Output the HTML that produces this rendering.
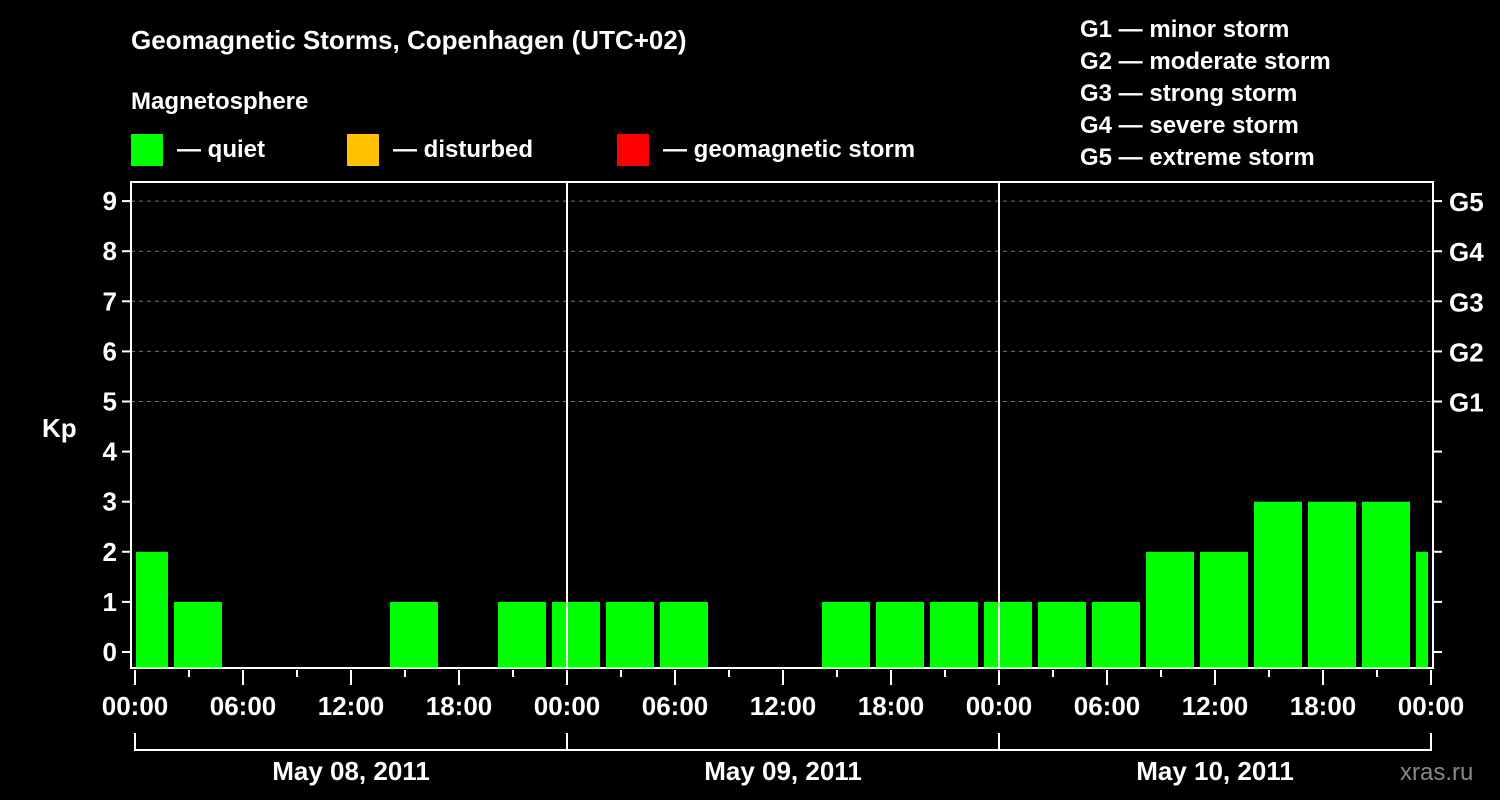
<!DOCTYPE html>
<html><head><meta charset="utf-8"><style>
body{margin:0;background:#000;}
svg{display:block;font-family:"Liberation Sans",Arial,sans-serif;font-weight:bold;}
</style></head><body>
<svg id="chart" width="1500" height="800" viewBox="0 0 1500 800">
<rect width="1500" height="800" fill="#000"/>
<text x="131" y="49" fill="#fff" font-size="26">Geomagnetic Storms, Copenhagen (UTC+02)</text>
<text x="131" y="109" fill="#fff" font-size="24">Magnetosphere</text>
<g><rect x="131" y="134" width="32" height="32" fill="#00ff00"/><text x="177" y="157" fill="#fff" font-size="24">— quiet</text></g>
<g><rect x="347" y="134" width="32" height="32" fill="#ffc000"/><text x="393" y="157" fill="#fff" font-size="24">— disturbed</text></g>
<g><rect x="617" y="134" width="32" height="32" fill="#ff0000"/><text x="663" y="157" fill="#fff" font-size="24">— geomagnetic storm</text></g>
<g fill="#fff" font-size="24">
<text x="1080" y="37">G1 — minor storm</text><text x="1080" y="69">G2 — moderate storm</text><text x="1080" y="101">G3 — strong storm</text><text x="1080" y="133">G4 — severe storm</text><text x="1080" y="165">G5 — extreme storm</text></g>
<text x="42" y="437" fill="#fff" font-size="26">Kp</text>
<text x="1400" y="780" fill="#888" font-size="24" font-weight="normal">xras.ru</text>
<g id="plot"></g>
</svg>
<script>
const kpValues=[2,1,0,0,0,1,0,1,1,1,1,0,0,1,1,1,1,1,1,2,2,3,3,3,2];
const barStartHours=[-1,2,5,8,11,14,17,20,23,26,29,32,35,38,41,44,47,50,53,56,59,62,65,68,71];
const dayLabels=["May 08, 2011","May 09, 2011","May 10, 2011"];
const hourLabels=["00:00","06:00","12:00","18:00"];
const gLabels=["G1","G2","G3","G4","G5"];
const NS="http://www.w3.org/2000/svg";
const plot=document.getElementById('plot');
const x0=135,pxh=18,L=131,R=1433,T=182,B=668;
const xs=h=>x0+h*pxh;
const ys=v=>652-v*50.1;
function mk(t,a,p){const e=document.createElementNS(NS,t);for(const k in a)e.setAttribute(k,a[k]);(p||plot).appendChild(e);return e;}
// grid
for(let v=5;v<=9;v++){const l=mk('line',{x1:L,x2:R,y1:ys(v),y2:ys(v),stroke:'#777','stroke-dasharray':'4,4','stroke-width':1});

}
// bars
kpValues.forEach((v,i)=>{if(v<=0)return;let a=Math.max(xs(barStartHours[i])+3,x0+1),b=Math.min(xs(barStartHours[i]+3)-3,1428);
const c=v>=5?'#ff0000':(v>=4?'#ffc000':'#00ff00');
const r=mk('rect',{x:a,y:ys(v),width:b-a,height:ys(0)+16-ys(v),fill:c});

});
// day separators
for(let d=1;d<3;d++){const l=mk('line',{x1:xs(24*d),x2:xs(24*d),y1:T,y2:B,stroke:'#fff','stroke-width':2});

}
// frame
const f=mk('rect',{x:L,y:T,width:R-L,height:B-T,fill:'none',stroke:'#fff','stroke-width':2});


// y ticks
for(let v=0;v<=9;v++){mk('line',{x1:122,x2:L,y1:ys(v),y2:ys(v),stroke:'#fff','stroke-width':2});
mk('line',{x1:R,x2:1442,y1:ys(v),y2:ys(v),stroke:'#fff','stroke-width':2});
const t=mk('text',{x:117,y:ys(v)+9,fill:'#fff','font-size':26,'text-anchor':'end'});t.textContent=v;

}
gLabels.forEach((g,i)=>{const t=mk('text',{x:1449,y:ys(5+i)+10,fill:'#fff','font-size':26});t.textContent=g;

});
// x ticks
for(let h=0;h<=72;h+=3){const major=h%6==0;mk('line',{x1:xs(h),x2:xs(h),y1:670,y2:major?685:677,stroke:'#fff','stroke-width':2});
if(major&&h%24==0||major){const t=mk('text',{x:xs(h),y:715,fill:'#fff','font-size':26,'text-anchor':'middle'});t.textContent=hourLabels[(h/6)%4];

}}
// day brackets
dayLabels.forEach((d,i)=>{const a=xs(24*i),b=xs(24*(i+1));
mk('path',{d:`M${a} 733V750H${b}V733`,fill:'none',stroke:'#fff','stroke-width':2});
const t=mk('text',{x:(a+b)/2,y:780,fill:'#fff','font-size':26,'text-anchor':'middle'});t.textContent=d;

});
</script>
</body></html>
